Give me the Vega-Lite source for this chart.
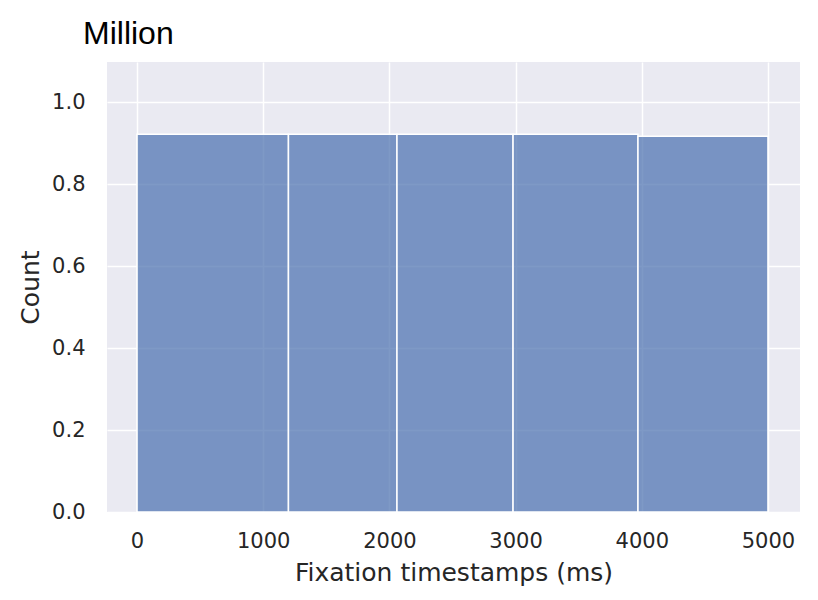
{
  "$schema": "https://vega.github.io/schema/vega-lite/v6.json",
  "width": 693,
  "height": 450,
  "autosize": {"type": "none"},
  "padding": {"left": 107, "top": 62, "right": 18, "bottom": 88},
  "background": "white",
  "title": {
    "text": "Million",
    "anchor": "start",
    "frame": "group",
    "dx": -24,
    "offset": 11,
    "font": "Liberation Sans",
    "fontSize": 32,
    "fontWeight": "normal",
    "color": "black"
  },
  "config": {
    "view": {"fill": "#eaeaf2", "stroke": null},
    "axis": {
      "grid": true,
      "gridColor": "white",
      "gridWidth": 1.5,
      "domain": false,
      "ticks": false,
      "labelFont": "DejaVu Sans",
      "titleFont": "DejaVu Sans",
      "labelColor": "#262626",
      "titleColor": "#262626",
      "labelFontSize": 21,
      "titleFontSize": 25,
      "titleFontWeight": "normal"
    }
  },
  "data": {
    "values": [
      {"start": 0, "end": 1200, "count": 0.922},
      {"start": 1200, "end": 2060, "count": 0.922},
      {"start": 2060, "end": 2980, "count": 0.922},
      {"start": 2980, "end": 3970, "count": 0.922},
      {"start": 3970, "end": 5000, "count": 0.917}
    ]
  },
  "mark": {"type": "rect", "fill": "#4c72b0", "fillOpacity": 0.72, "stroke": "white", "strokeWidth": 1.5},
  "encoding": {
    "x": {
      "field": "start",
      "type": "quantitative",
      "scale": {"domain": [-238, 5254], "nice": false, "zero": false},
      "axis": {"values": [0, 1000, 2000, 3000, 4000, 5000], "format": "d", "title": "Fixation timestamps (ms)", "labelPadding": 18, "titlePadding": 9}
    },
    "x2": {"field": "end"},
    "y": {
      "field": "count",
      "type": "quantitative",
      "scale": {"domain": [0, 1.098], "nice": false},
      "axis": {"values": [0, 0.2, 0.4, 0.6, 0.8, 1.0], "format": ".1f", "title": "Count", "labelPadding": 22, "titlePadding": 8}
    },
    "y2": {"datum": 0}
  }
}
